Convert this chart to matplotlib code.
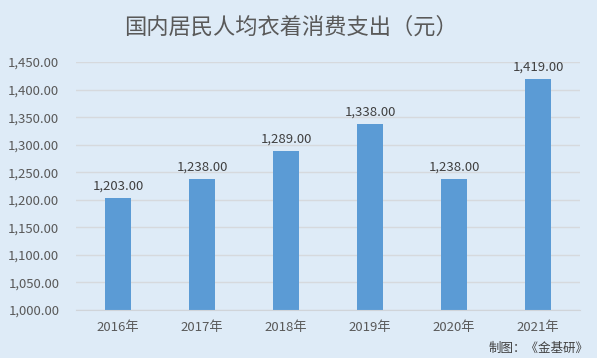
import matplotlib
matplotlib.use('Agg')
import matplotlib.pyplot as plt
from matplotlib.ticker import FuncFormatter

plt.rcParams['font.family'] = ['Noto Sans CJK SC', 'DejaVu Sans']

# data
years = ['2016年', '2017年', '2018年', '2019年', '2020年', '2021年']
spending = [1203.00, 1238.00, 1289.00, 1338.00, 1238.00, 1419.00]
y_ticks = [1000, 1050, 1100, 1150, 1200, 1250, 1300, 1350, 1400, 1450]

bg = '#DEEBF7'
fig = plt.figure(figsize=(5.97, 3.58), dpi=100, facecolor=bg)
ax = fig.add_axes([0.1273, 0.134, 0.8442, 0.6927], facecolor=bg)

x = range(len(years))
ax.bar(x, spending, width=0.31, color='#5B9BD5', zorder=3)

for xi, v in zip(x, spending):
    ax.text(xi, v + 10, f'{v:,.2f}', ha='center', va='bottom',
            fontsize=9.5, color='#404040', clip_on=False)

ax.set_xlim(-0.5, len(years) - 0.5)
ax.set_ylim(1000, 1450)
ax.set_yticks(y_ticks)
ax.yaxis.set_major_formatter(FuncFormatter(lambda v, p: f'{v:,.2f}'))
ax.set_xticks(list(x))
ax.set_xticklabels(years)
ax.tick_params(axis='both', length=0, labelsize=9.5, labelcolor='#595959')
ax.tick_params(axis='x', pad=8)
ax.tick_params(axis='y', pad=12)

ax.grid(axis='y', color='#D6D9DD', linewidth=1, zorder=0)
for s in ['top', 'right', 'left']:
    ax.spines[s].set_visible(False)
ax.spines['bottom'].set_color('#D0D4D9')
ax.spines['bottom'].set_zorder(4)

fig.text(0.487, 0.925, '国内居民人均衣着消费支出（元）', ha='center', va='center',
         fontsize=16, color='#595959')
fig.text(0.985, 0.027, '制图：《金基研》', ha='right', va='center',
         fontsize=9, color='#404040')

fig.savefig('out.png', dpi=100, facecolor=bg)
